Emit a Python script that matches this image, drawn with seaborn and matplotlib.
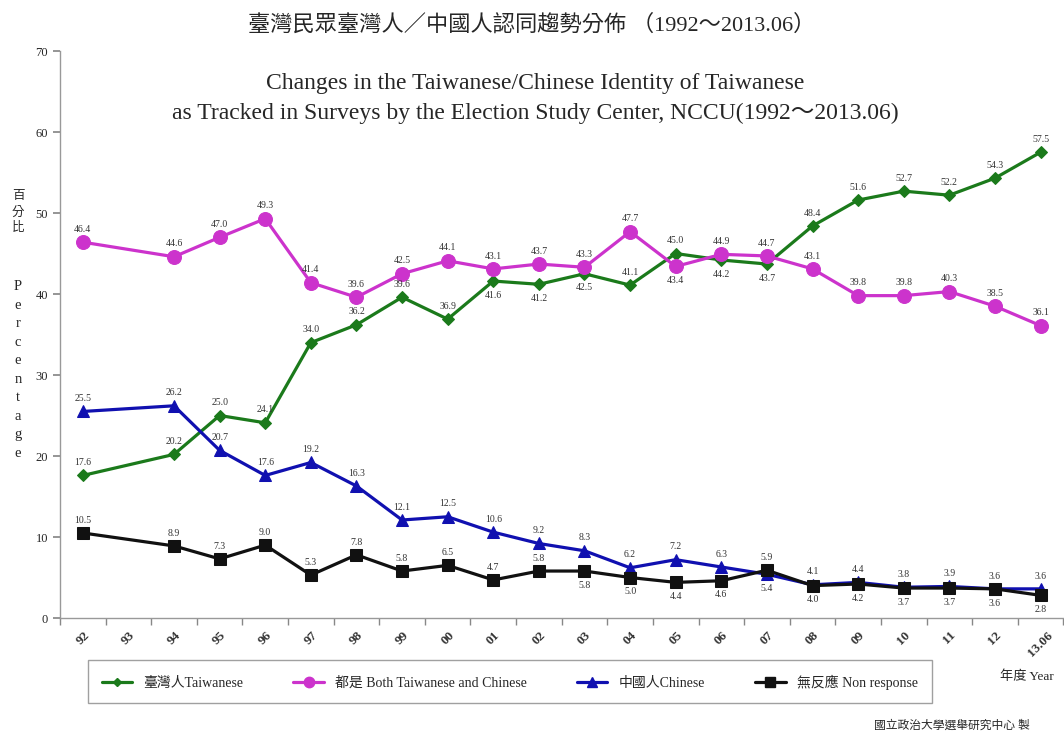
import numpy as np
import pandas as pd
import seaborn as sns
from matplotlib import pyplot as plt
from matplotlib.lines import Line2D

years = ['92', '93', '94', '95', '96', '97', '98', '99', '00', '01', '02',
         '03', '04', '05', '06', '07', '08', '09', '10', '11', '12', '13.06']
nan = np.nan
taiwanese = [17.6, nan, 20.2, 25.0, 24.1, 34.0, 36.2, 39.6, 36.9, 41.6, 41.2,
             42.5, 41.1, 45.0, 44.2, 43.7, 48.4, 51.6, 52.7, 52.2, 54.3, 57.5]
both = [46.4, nan, 44.6, 47.0, 49.3, 41.4, 39.6, 42.5, 44.1, 43.1, 43.7,
        43.3, 47.7, 43.4, 44.9, 44.7, 43.1, 39.8, 39.8, 40.3, 38.5, 36.1]
chinese = [25.5, nan, 26.2, 20.7, 17.6, 19.2, 16.3, 12.1, 12.5, 10.6, 9.2,
           8.3, 6.2, 7.2, 6.3, 5.4, 4.1, 4.4, 3.8, 3.9, 3.6, 3.6]
no_resp = [10.5, nan, 8.9, 7.3, 9.0, 5.3, 7.8, 5.8, 6.5, 4.7, 5.8,
           5.8, 5.0, 4.4, 4.6, 5.9, 4.0, 4.2, 3.7, 3.7, 3.6, 2.8]
names = ['臺灣人Taiwanese', '都是 Both Taiwanese and Chinese', '中國人Chinese', '無反應 Non response']

# styling per series: colour, marker, size, which labels go below the point
styles = [
    ('#1b7a1b', 'D', 6, {9, 10, 11, 14, 15}),
    ('#cc33cc', 'o', 10, {13}),
    ('#1010b0', '^', 9, {15}),
    ('#111111', 's', 9, {11, 12, 13, 14, 16, 17, 18, 19, 20, 21}),
]

sns.set_theme(style='white')
plt.rcParams['font.family'] = ['Liberation Serif', 'Noto Sans CJK TC', 'DejaVu Sans']

fig = plt.figure(figsize=(10.64, 7.36), dpi=100)
ax = fig.add_axes([0.0564, 0.1603, 0.943, 0.7704])

xpos = np.arange(len(years))
handles = []
for name, vals, (col, mk, ms, below) in zip(names, [taiwanese, both, chinese, no_resp], styles):
    df = pd.DataFrame({'x': xpos, 'y': vals}).dropna()
    sns.lineplot(data=df, x='x', y='y', ax=ax, color=col, marker=mk, markersize=ms,
                 markeredgecolor=col, linewidth=2.3)
    for x, y in zip(df['x'], df['y']):
        if x in below:
            ax.annotate(f'{y:.1f}', (x, y), xytext=(0, -7), textcoords='offset points',
                        ha='center', va='top', fontsize=7, color='#333333')
        else:
            ax.annotate(f'{y:.1f}', (x, y), xytext=(0, 6), textcoords='offset points',
                        ha='center', va='bottom', fontsize=7, color='#333333')
    handles.append(Line2D([], [], color=col, marker=mk, markersize=ms * 0.75,
                          linewidth=2.3, label=name))

ax.set_xlim(-0.5, len(years) - 0.5)
ax.set_ylim(0, 70)
ax.set_yticks(range(0, 71, 10))
ax.set_xticks(xpos)
ax.set_xticklabels(years, rotation=45, ha='center', va='top', fontsize=9.5,
                   fontweight='bold', color='#333333')
ax.set_xticks(np.arange(-0.5, len(years)), minor=True)
ax.tick_params(axis='x', which='major', length=0, pad=8)
ax.tick_params(axis='x', which='minor', length=5, color='#888888', direction='out', bottom=True)
ax.tick_params(axis='y', length=5, color='#888888', direction='out', left=True, labelsize=9)
ax.set_xlabel('')
ax.set_ylabel('')
for s in ['top', 'right']:
    ax.spines[s].set_visible(False)
for s in ['left', 'bottom']:
    ax.spines[s].set_color('#999999')
    ax.spines[s].set_linewidth(1)

ax.text(0.474, 0.916, 'Changes in the Taiwanese/Chinese Identity of Taiwanese\n'
        'as Tracked in Surveys by the Election Study Center, NCCU(1992～2013.06)',
        transform=ax.transAxes, ha='center', va='center', fontsize=17, linespacing=1.5)
fig.text(0.5, 0.966, '臺灣民眾臺灣人／中國人認同趨勢分佈 （1992～2013.06）',
         ha='center', va='center', fontsize=16)

fig.text(0.017, 0.712, '百\n分\n比', ha='center', va='center', fontsize=9, linespacing=1.3,
         family=['Noto Sans CJK TC'])
fig.text(0.017, 0.497, '\n'.join('Percentage'), ha='center', va='center', fontsize=10.5,
         linespacing=1.55)

leg = fig.legend(handles=handles, loc='center', bbox_to_anchor=(0.479, 0.0734), ncol=4,
                 fontsize=10, frameon=True, fancybox=False, edgecolor='#888888',
                 handlelength=2.2, columnspacing=3.6, borderpad=1.0)
leg.get_frame().set_linewidth(1)

fig.text(0.965, 0.08, '年度 Year', ha='center', va='center', fontsize=9.5)
fig.text(0.968, 0.014, '國立政治大學選舉研究中心 製', ha='right', va='center', fontsize=8.5)

fig.savefig('out.png', dpi=100)
